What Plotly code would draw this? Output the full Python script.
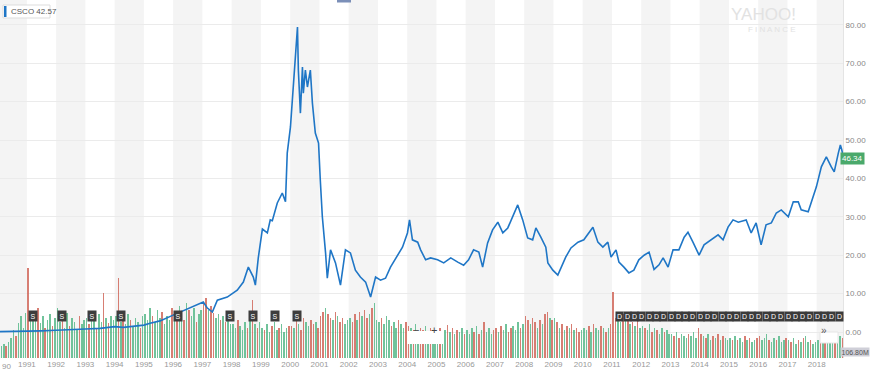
import plotly.graph_objects as go

# ---------------- data ----------------
price_dates = [1990.08, 1990.5, 1991.0, 1991.5, 1992.0, 1992.5, 1993.0, 1993.5, 1994.0, 1994.3, 1994.7,
               1995.0, 1995.21, 1995.55, 1996.0, 1996.34, 1996.68, 1997.03, 1997.16, 1997.34, 1997.51,
               1997.85, 1998.19, 1998.4, 1998.57, 1998.74, 1998.81, 1998.91, 1999.05, 1999.22, 1999.32,
               1999.39, 1999.56, 1999.73, 1999.84, 1999.9, 2000.01, 2000.11, 2000.25, 2000.28, 2000.35,
               2000.42, 2000.45, 2000.52, 2000.59, 2000.69, 2000.76, 2000.86, 2000.97, 2001.03, 2001.1,
               2001.21, 2001.27, 2001.38, 2001.55, 2001.72, 2001.89, 2002.06, 2002.23, 2002.4, 2002.58,
               2002.75, 2002.92, 2003.09, 2003.26, 2003.43, 2003.67, 2003.84, 2004.01, 2004.08, 2004.18,
               2004.36, 2004.46, 2004.63, 2004.8, 2005.04, 2005.25, 2005.49, 2005.73, 2005.93, 2006.1,
               2006.27, 2006.45, 2006.58, 2006.75, 2006.92, 2007.1, 2007.27, 2007.44, 2007.61, 2007.78,
               2007.95, 2008.12, 2008.29, 2008.4, 2008.57, 2008.74, 2008.81, 2008.98, 2009.15, 2009.25,
               2009.42, 2009.6, 2009.84, 2010.04, 2010.21, 2010.35, 2010.52, 2010.69, 2010.86, 2010.97,
               2011.14, 2011.24, 2011.41, 2011.58, 2011.75, 2011.92, 2012.1, 2012.27, 2012.44, 2012.61,
               2012.75, 2012.92, 2013.09, 2013.29, 2013.47, 2013.6, 2013.77, 2013.98, 2014.15, 2014.39,
               2014.63, 2014.8, 2014.97, 2015.14, 2015.32, 2015.59, 2015.76, 2015.93, 2016.1, 2016.27,
               2016.45, 2016.62, 2016.79, 2017.03, 2017.2, 2017.37, 2017.47, 2017.71, 2017.82, 2017.99,
               2018.16, 2018.33, 2018.5, 2018.6, 2018.74, 2018.81, 2018.86, 2018.89]
price_values = [0.10, 0.12, 0.18, 0.30, 0.45, 0.55, 0.80, 0.95, 1.4, 1.2, 1.5,
                1.8, 2.3, 2.9, 4.4, 5.5, 6.5, 7.8, 6.3, 5.2, 8.3,
                9.1, 10.9, 13.0, 16.9, 14.3, 12.2, 19.3, 26.8, 25.8, 29.2,
                29.0, 33.6, 36.2, 33.9, 46.6, 53.4, 64.8, 79.4, 68.2, 57.0,
                69.0, 62.2, 68.2, 63.8, 68.2, 59.6, 51.8, 49.2, 39.6, 30.0,
                20.6, 14.0, 21.4, 18.0, 12.2, 21.4, 20.6, 16.1, 14.3, 13.0,
                9.1, 14.3, 13.5, 14.0, 16.9, 20.0, 22.1, 25.8, 29.2, 24.0,
                23.4, 21.4, 18.8, 19.3, 18.8, 18.0, 19.3, 18.2, 17.4, 18.8,
                21.4, 20.8, 16.9, 23.2, 26.6, 28.6, 25.8, 27.1, 30.0, 33.1,
                29.2, 24.5, 24.0, 27.1, 24.7, 22.1, 18.0, 16.1, 14.8, 16.7,
                19.5, 21.9, 23.4, 24.0, 25.8, 27.3, 23.4, 22.1, 23.4, 19.5,
                21.4, 18.2, 16.9, 15.4, 16.1, 18.8, 20.0, 20.8, 16.3, 17.5,
                19.3, 16.9, 21.4, 21.4, 24.7, 26.0, 23.4, 20.0, 22.7, 24.0,
                25.3, 24.0, 27.3, 29.2, 28.6, 29.2, 25.8, 28.4, 22.7, 27.9,
                28.4, 31.0, 31.8, 30.0, 33.9, 33.9, 31.8, 31.3, 33.9, 37.8,
                43.0, 45.6, 43.0, 41.7, 46.6, 48.7, 47.4, 46.3]

# monthly volume heights (relative units), one row per year 1990..2018
volume_years = list(range(1990, 2019))
volume_rows = [
    [10, 12, 14, 12, 16, 20, 28, 22, 35, 42, 30, 45],
    [90, 40, 45, 38, 50, 35, 42, 30, 38, 44, 32, 40],
    [50, 36, 42, 30, 45, 32, 40, 36, 28, 42, 34, 38],
    [40, 34, 45, 38, 30, 44, 36, 65, 40, 35, 42, 38],
    [42, 80, 36, 40, 34, 44, 38, 32, 40, 36, 30, 42],
    [44, 38, 50, 42, 36, 48, 40, 46, 34, 42, 38, 50],
    [46, 40, 52, 44, 38, 55, 48, 42, 50, 36, 44, 48],
    [55, 60, 48, 52, 45, 40, 44, 38, 42, 36, 40, 34],
    [34, 30, 38, 32, 28, 36, 30, 40, 58, 34, 30, 36],
    [30, 28, 34, 26, 32, 36, 28, 30, 34, 26, 30, 32],
    [32, 30, 38, 34, 28, 40, 36, 32, 38, 34, 36, 30],
    [42, 46, 50, 44, 40, 38, 46, 42, 36, 40, 34, 38],
    [40, 36, 44, 38, 46, 42, 48, 40, 44, 50, 55, 38],
    [36, 40, 34, 42, 38, 32, 36, 30, 38, 34, 30, 36],
    [32, 30, 28, 34, 26, 30, 28, 32, 26, 30, 28, 24],
    [26, 30, 24, 28, 33, 26, 30, 24, 28, 26, 30, 24],
    [28, 24, 30, 26, 32, 24, 28, 36, 26, 30, 24, 28],
    [30, 26, 32, 28, 34, 26, 30, 32, 28, 36, 30, 34],
    [42, 38, 34, 40, 36, 30, 38, 34, 44, 46, 40, 38],
    [40, 36, 30, 34, 28, 32, 30, 34, 28, 30, 26, 28],
    [30, 28, 32, 26, 34, 30, 28, 32, 30, 26, 30, 34],
    [66, 40, 42, 36, 44, 38, 40, 34, 36, 32, 38, 30],
    [32, 30, 28, 34, 26, 30, 28, 24, 30, 26, 28, 24],
    [24, 22, 26, 20, 24, 22, 20, 24, 22, 26, 20, 30],
    [24, 22, 20, 24, 18, 22, 20, 24, 18, 22, 20, 18],
    [20, 18, 22, 18, 20, 16, 22, 18, 20, 16, 18, 20],
    [22, 18, 20, 24, 18, 16, 20, 18, 22, 16, 18, 20],
    [18, 16, 20, 14, 18, 16, 20, 22, 16, 18, 14, 16],
    [18, 22, 16, 20, 24, 18, 16, 20, 18, 22, 20],
]
volume_dirs = [
    "rggrgggrgggg", "rgggrggrggrg", "ggrggrgggrgg", "grggrggrgrgg", "grgrggrgggrg",
    "gggrgggrgggr", "grggrgrggrgg", "rrgrrggrgrgg", "ggrgggrgrgrg", "grggrggrgggr",
    "rgrgrrggrrgr", "rrgrrgrgrrgg", "grrgrgrrgrgg", "grgggrggrggr", "rgrggrrggrgg",
    "grggrgrgrggr", "gggrgrgrgggr", "rgrggrrgggrg", "rrgrrgrgrrgr", "grgrgrgrgrrg",
    "ggrgrggrgrgr", "rrggrgrgrgrg", "grggrgrggrgg", "grgrgggrgggr", "rgrggrgrgrgg",
    "grgrggrgrggr", "rgggrggrgggr", "grggrgrggrgg", "grgrgggrggr",
]

split_dates = [1991.21, 1992.2, 1993.23, 1994.22, 1996.17, 1997.95, 1998.74, 1999.49, 2000.25]
dividend_dates = [2011.27 + 0.25 * k for k in range(31)]
year_ticks = list(range(1991, 2019))
price_ticks = [0, 10, 20, 30, 40, 50, 60, 70, 80]

# ---------------- geometry helpers (pixel -> paper) ----------------
PW, PH = 843.0, 358.0
def px(x):
    return x / PW
def py(y):
    return (PH - y) / PH

vx, vy, vc = [], [], []
for yr, row, dirs in zip(volume_years, volume_rows, volume_dirs):
    for m, (v, d) in enumerate(zip(row, dirs)):
        vx.append(yr + (m + 0.5) / 12)
        vy.append(v)
        vc.append("rgba(88,184,137,0.85)" if d == "g" else "rgba(208,103,91,0.85)")

fig = go.Figure()
fig.add_trace(go.Bar(x=vx, y=vy, marker=dict(color=vc, line=dict(width=0)),
                     width=1 / 12 * 0.62, yaxis="y", hoverinfo="skip"))
fig.add_trace(go.Scatter(x=price_dates, y=price_values, mode="lines",
                         line=dict(color="#1f76c6", width=1.6), yaxis="y2"))

shapes = []
for yr in range(1990, 2019, 2):
    shapes.append(dict(type="rect", xref="x", yref="paper", x0=yr, x1=yr + 1, y0=0, y1=1,
                       fillcolor="#f4f4f4", line=dict(width=0), layer="below"))
# legend box top-left
shapes.append(dict(type="rect", xref="paper", yref="paper", x0=px(3), x1=px(50), y0=py(18), y1=py(5),
                   fillcolor="white", line=dict(color="#dddddd", width=1)))
shapes.append(dict(type="rect", xref="paper", yref="paper", x0=px(4), x1=px(6.5), y0=py(17), y1=py(6),
                   fillcolor="#1f76c6", line=dict(width=0)))
# zoom control
shapes.append(dict(type="rect", xref="paper", yref="paper", x0=px(407), x1=px(444), y0=py(344), y1=py(331),
                   fillcolor="white", line=dict(width=0)))
shapes.append(dict(type="rect", xref="paper", yref="paper", x0=px(820), x1=px(838), y0=py(343), y1=py(332),
                   fillcolor="white", line=dict(color="#e6e6e6", width=1)))
# top scroll handle
shapes.append(dict(type="rect", xref="paper", yref="paper", x0=px(337), x1=px(351), y0=py(2.5), y1=py(0),
                   fillcolor="#7b8fb8", line=dict(width=0)))

ann = []
ann.append(dict(text="CSCO 42.57", xref="paper", yref="paper", x=px(9), y=py(11.5), xanchor="left",
                yanchor="middle", showarrow=False, font=dict(size=8, color="#555")))
ann.append(dict(text="YAHOO!", xref="paper", yref="paper", x=px(798), y=py(14), yanchor="middle",
                showarrow=False, font=dict(size=17, color="#e2e2e2", family="Liberation Sans")))
ann.append(dict(text="F I N A N C E", xref="paper", yref="paper", x=px(798), y=py(30), yanchor="middle",
                showarrow=False, font=dict(size=8, color="#e2e2e2", family="Liberation Sans")))
ann.append(dict(text="90", xref="paper", yref="paper", x=0, y=py(366), xanchor="left", yanchor="middle",
                showarrow=False, font=dict(size=8, color="#999")))
ann.append(dict(text="46.34", xref="paper", yref="paper", x=px(840), y=py(159), xanchor="left",
                yanchor="middle", showarrow=False, bgcolor="#4aa96b", borderpad=1,
                font=dict(size=8, color="white")))
ann.append(dict(text="106.80M", xref="paper", yref="paper", x=px(840), y=py(352), xanchor="left",
                yanchor="middle", showarrow=False, bgcolor="#cfcfd8", borderpad=0.5,
                font=dict(size=7, color="#555")))
ann.append(dict(text="−", xref="paper", yref="paper", x=px(416), y=py(337.5), showarrow=False,
                font=dict(size=11, color="#444")))
ann.append(dict(text="+", xref="paper", yref="paper", x=px(434), y=py(337.5), showarrow=False,
                font=dict(size=11, color="#444")))
ann.append(dict(text="»", xref="paper", yref="paper", x=px(829), y=py(337.5), showarrow=False,
                font=dict(size=10, color="#555")))
for d in dividend_dates:
    ann.append(dict(text="D", xref="x", yref="paper", x=d, y=py(322), showarrow=False,
                    bgcolor="#3b3b3b", borderpad=1, font=dict(size=7, color="white")))
for s in split_dates:
    ann.append(dict(text="S", xref="x", yref="paper", x=s, y=py(322), showarrow=False,
                    bgcolor="#3d3d3d", borderpad=1.5, font=dict(size=7, color="white")))

fig.update_layout(
    width=870, height=372,
    margin=dict(l=0, r=27, t=0, b=14),
    paper_bgcolor="white", plot_bgcolor="white",
    showlegend=False, bargap=0,
    font=dict(family="Liberation Sans", size=8, color="#999"),
    xaxis=dict(range=[1990.08, 2018.9], tickvals=year_ticks, ticktext=[str(y) for y in year_ticks],
               showgrid=False, zeroline=False, ticks="", tickfont=dict(size=8, color="#999")),
    yaxis=dict(range=[0, 358], visible=False, fixedrange=True),
    yaxis2=dict(overlaying="y", side="right", range=[-6.77, 86.46], tickvals=price_ticks,
                ticktext=["%.2f" % t for t in price_ticks], showgrid=True, gridcolor="#ebebeb",
                zeroline=False, ticks="", tickfont=dict(size=8, color="#888"),
                showline=True, linecolor="#e4e4e4"),
    shapes=shapes, annotations=ann,
)
fig.write_html("out.html", config={"displayModeBar": False},
               post_script="document.body.style.margin='0';document.body.style.overflow='hidden';")
